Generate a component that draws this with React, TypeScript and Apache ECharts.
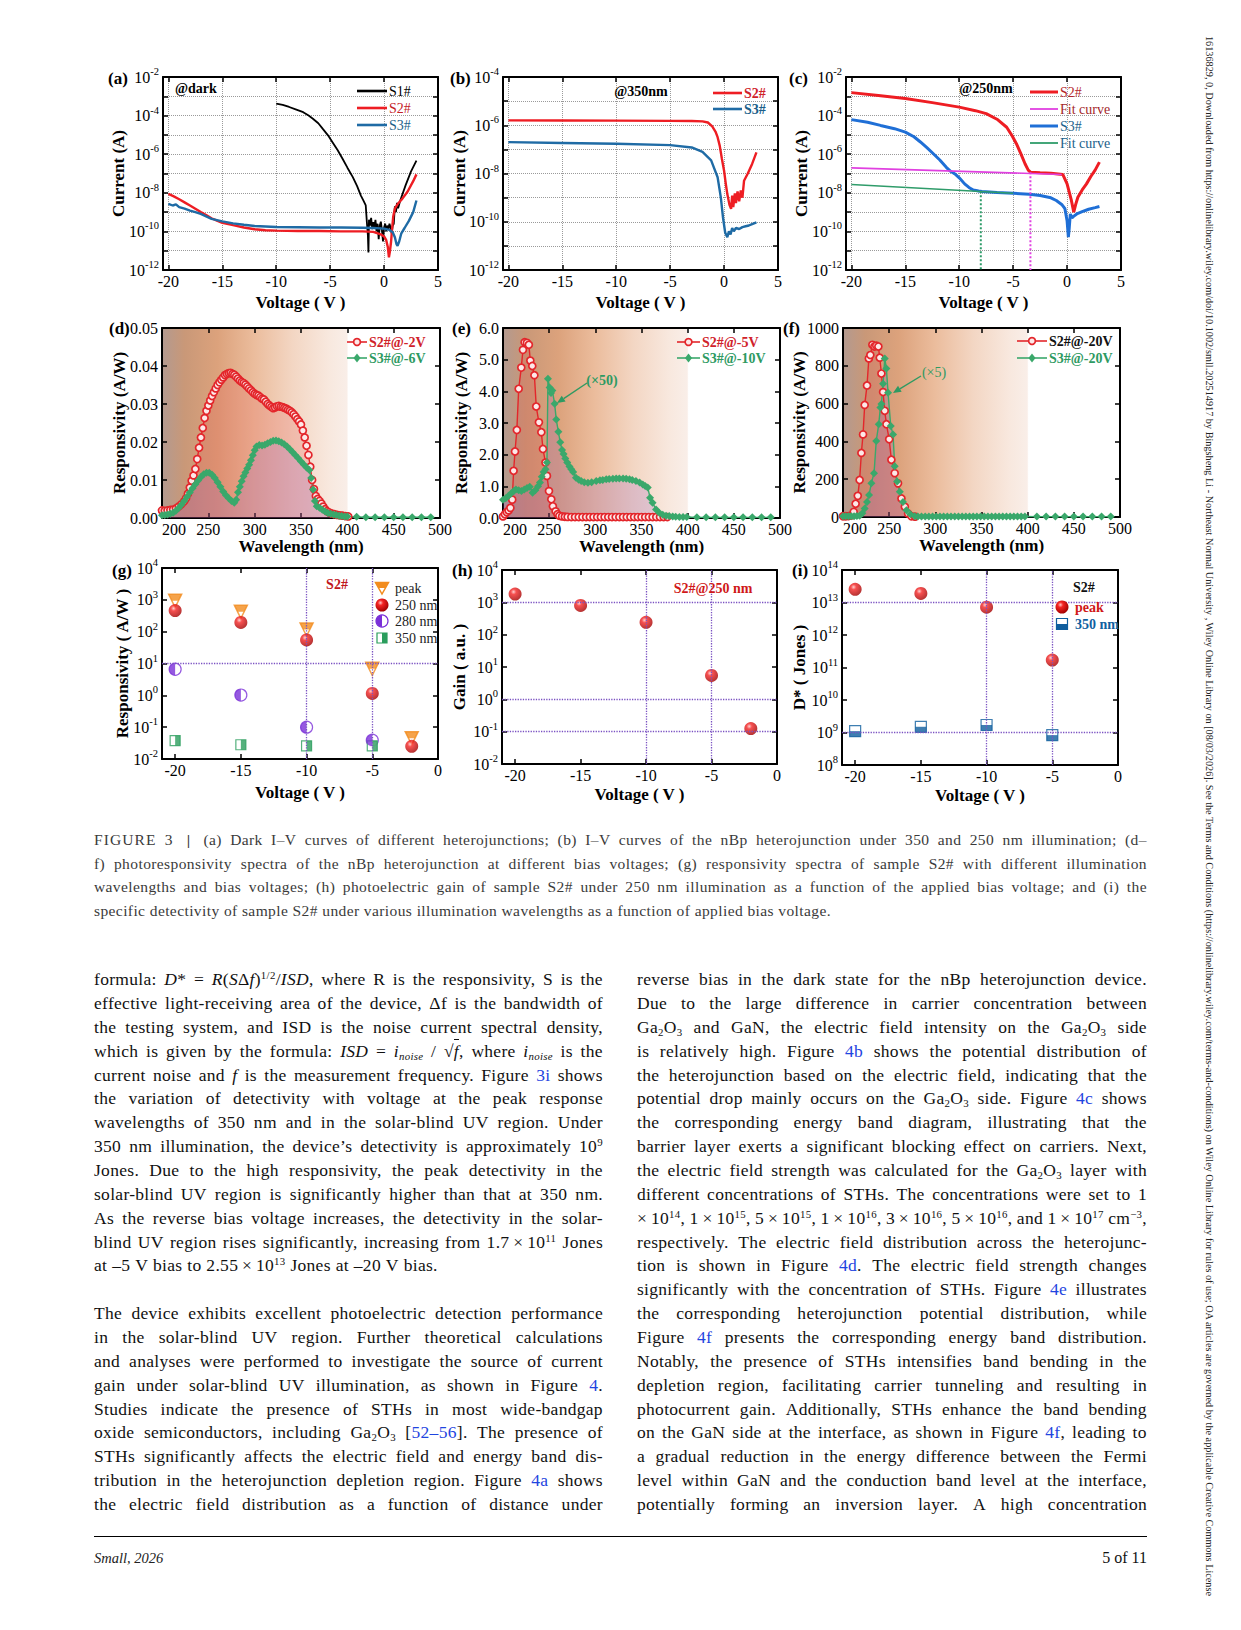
import React, { useEffect, useRef } from "react";
import * as echarts from "echarts";

const SERIF = "'Liberation Serif', 'Times New Roman', Times, serif";

// ---------------- DATA ----------------
// (a) dark I–V, [V, A]
const aS1 = [[-10,4.2e-4],[-9.4,3.6e-4],[-8.8,2.8e-4],[-8.2,2.1e-4],[-7.5,1.5e-4],[-7,1e-4],[-6.6,6.9e-5],[-6.1,4e-5],[-5.7,2.1e-5],[-5.2,9.5e-6],[-4.8,4.3e-6],[-4.3,1.6e-6],[-3.85,5.8e-7],[-3.4,2e-7],[-2.9,6.5e-8],[-2.5,2.2e-8],[-2.15,7.2e-9],[-1.9,3.8e-9],[-1.7,2.2e-9],[-1.6,3.2e-10],[-1.5,6e-11],[-1.45,8e-12],[-1.4,4e-10],[-1.3,2e-10],[-1.2,5e-10],[-1.1,1.3e-10],[-1.0,3e-10],[-0.9,1.6e-10],[-0.8,4e-10],[-0.7,1e-10],[-0.6,2.5e-10],[-0.5,4e-11],[-0.4,2e-10],[-0.3,3.2e-10],[-0.2,1.2e-10],[-0.1,3e-11],[0,1.6e-10],[0.1,2.5e-10],[0.2,1e-10],[0.3,2e-10],[0.4,1.3e-10],[0.5,2.5e-10],[0.6,1.6e-10],[0.7,8e-11],[0.8,2e-10],[0.9,2.5e-10],[1.0,2e-9],[1.1,1e-9],[1.2,3e-9],[1.3,1.6e-9],[1.5,4e-9],[2.0,2.5e-8],[2.5,1.3e-7],[3.0,4.7e-7]];
const aS2 = [[-20,8.7e-9],[-19.5,6.5e-9],[-19,4.6e-9],[-18.5,3.2e-9],[-18,2.2e-9],[-17.5,1.5e-9],[-17,1.0e-9],[-16.5,7e-10],[-16,4.8e-10],[-15.5,3.6e-10],[-15,2.8e-10],[-14,2.1e-10],[-13,1.6e-10],[-12,1.3e-10],[-11,1.15e-10],[-10,1.1e-10],[-8,1.05e-10],[-6,1.05e-10],[-4,1.0e-10],[-2,1.0e-10],[-1,9.5e-11],[-0.3,7e-11],[0,5.5e-11],[0.2,3.5e-11],[0.35,1.5e-11],[0.45,4.5e-12],[0.55,1e-11],[0.65,3e-11],[0.75,1.5e-10],[0.85,6e-10],[1.0,1.5e-9],[1.3,2.8e-9],[1.7,5e-9],[2.2,1.2e-8],[2.7,4e-8],[3.0,9e-8]];
const aS3 = [[-20,2.7e-9],[-19.6,2.2e-9],[-19.3,2.5e-9],[-19,1.8e-9],[-18.5,1.5e-9],[-18,1.2e-9],[-17.5,1e-9],[-17,8e-10],[-16.5,6e-10],[-16,4.5e-10],[-15,3.3e-10],[-14,2.6e-10],[-13,2.2e-10],[-12,1.9e-10],[-10,1.7e-10],[-8,1.65e-10],[-6,1.6e-10],[-4,1.6e-10],[-2,1.55e-10],[-1,1.5e-10],[0,1.4e-10],[0.5,1.2e-10],[0.8,9e-11],[1.0,5e-11],[1.15,2.2e-11],[1.25,1.8e-11],[1.4,3e-11],[1.6,8e-11],[1.9,1.5e-10],[2.3,3.5e-10],[2.7,1e-9],[3.0,4e-9]];
// (b) 350 nm
const bS2 = [[-20,1.6e-6],[-15,1.58e-6],[-10,1.55e-6],[-5,1.52e-6],[-3,1.5e-6],[-2,1.45e-6],[-1.5,1.3e-6],[-1.1,9e-7],[-0.8,5.5e-7],[-0.6,3.2e-7],[-0.4,1.4e-7],[-0.2,4e-8],[0,1.3e-8],[0.15,4e-9],[0.3,1.4e-9],[0.5,5e-10],[0.65,3.4e-10],[0.75,1.2e-9],[0.85,4e-10],[1.0,1.5e-9],[1.1,6e-10],[1.25,1.8e-9],[1.4,7e-10],[1.55,2e-9],[1.7,1e-9],[1.85,5e-9],[2.2,1e-8],[2.6,2.5e-8],[3.0,7.5e-8]];
const bS3 = [[-20,2e-7],[-15,1.85e-7],[-10,1.7e-7],[-5,1.5e-7],[-3,1.2e-7],[-2,7.8e-8],[-1.2,3.5e-8],[-0.6,7e-9],[-0.3,1e-9],[-0.1,1.5e-10],[0.1,3.6e-11],[0.3,2.3e-11],[0.45,4e-11],[0.6,3e-11],[0.75,5.5e-11],[0.9,4e-11],[1.1,5.5e-11],[1.4,5e-11],[1.7,6e-11],[2.0,6.5e-11],[2.3,7e-11],[2.6,8e-11],[3.0,9.5e-11]];
// (c) 250 nm
const cS2 = [[-20,1.55e-3],[-17.5,1.1e-3],[-15,7.6e-4],[-12.5,4.7e-4],[-10,2.75e-4],[-8.5,1.8e-4],[-7.5,1.26e-4],[-6.5,6.5e-5],[-5.6,2.5e-5],[-5.1,9e-6],[-4.7,3.5e-6],[-4.3,1.1e-6],[-3.9,3.2e-7],[-3.6,1.5e-7],[-3.4,1.17e-7],[-2.5,1.1e-7],[-1.5,1.03e-7],[-0.4,8.9e-8],[0,2.9e-8],[0.4,4e-9],[0.62,1e-9],[0.8,2.5e-9],[1.0,5.9e-9],[1.4,1.4e-8],[1.8,2.9e-8],[2.2,7e-8],[2.6,1.5e-7],[3.0,3.9e-7]];
const cFitS2 = [[-20,1.95e-7],[-0.5,8.9e-8]];
const cCutS2 = [[-3.4,1.17e-7],[-3.4,1e-12]];
const cS3 = [[-20,6.2e-5],[-18.5,4.5e-5],[-17.3,3.1e-5],[-16,2.1e-5],[-15,1.4e-5],[-14.2,8e-6],[-13.6,4.3e-6],[-13,2.2e-6],[-12.4,1.05e-6],[-11.8,5e-7],[-11.2,2.1e-7],[-10.8,1.3e-7],[-10.4,9.5e-8],[-10,6e-8],[-9.5,2.9e-8],[-9.1,1.9e-8],[-8.7,1.4e-8],[-8.2,1.25e-8],[-7.9,1.18e-8],[-6.5,1.05e-8],[-5,9.5e-9],[-3.5,8.5e-9],[-2.5,7.2e-9],[-1.5,5.5e-9],[-1,4e-9],[-0.5,2.5e-9],[-0.2,1.5e-9],[0,3.6e-10],[0.12,5e-11],[0.2,1.5e-10],[0.3,8e-10],[0.45,5e-10],[0.6,6e-10],[0.9,8e-10],[1.4,1.05e-9],[2.0,1.4e-9],[2.6,1.7e-9],[3.0,1.95e-9]];
const cFitS3 = [[-20,2.7e-8],[-5,9.5e-9]];
const cCutS3 = [[-8.0,1.2e-8],[-8.0,1e-12]];
// (d) responsivity spectra, [nm, A/W]
const dS2 = [[200,0.0020],[203,0.0019],[206,0.0020],[209,0.0021],[212,0.0022],[215,0.0025],[218,0.0030],[221,0.0036],[224,0.0044],[226,0.0052],[228,0.0064],[230,0.0080],[232,0.0098],[234,0.0112],[236,0.0129],[238,0.0155],[240,0.0185],[242,0.0212],[244,0.0237],[246,0.0263],[248,0.0282],[250,0.0296],[252,0.0309],[254,0.0321],[256,0.0331],[258,0.0341],[260,0.0350],[262,0.0357],[264,0.0364],[266,0.0370],[268,0.0376],[270,0.0379],[272,0.0381],[274,0.0382],[276,0.0379],[278,0.0377],[280,0.0372],[282,0.0367],[284,0.0362],[286,0.0358],[288,0.0355],[290,0.0351],[292,0.0346],[294,0.0341],[296,0.0336],[298,0.0331],[300,0.0327],[302,0.0324],[304,0.0322],[306,0.0318],[308,0.0314],[310,0.0312],[312,0.0306],[314,0.0300],[316,0.0296],[318,0.0292],[320,0.0289],[322,0.0291],[324,0.0294],[326,0.0295],[328,0.0293],[330,0.0292],[332,0.0290],[334,0.0288],[336,0.0285],[338,0.0282],[340,0.0278],[342,0.0273],[344,0.0267],[346,0.0260],[348,0.0254],[350,0.0246],[352,0.0230],[354,0.0212],[356,0.0190],[358,0.0166],[360,0.0135],[362,0.0100],[364,0.0076],[366,0.0058],[368,0.0050],[370,0.0045],[372,0.0038],[374,0.0030],[376,0.0023],[378,0.0018],[380,0.0015],[383,0.0012],[386,0.0010],[389,0.0008],[392,0.0007],[395,0.0006],[398,0.0005],[401,0.0004]];
const dS3 = [[200,0.0007],[203,0.0008],[206,0.0009],[209,0.0011],[212,0.0014],[215,0.0019],[218,0.0026],[221,0.0035],[224,0.0045],[227,0.0056],[230,0.0067],[233,0.0078],[236,0.0089],[239,0.0099],[242,0.0108],[245,0.0115],[248,0.0119],[251,0.0119],[254,0.0114],[257,0.0105],[260,0.0094],[263,0.0082],[266,0.0070],[269,0.0060],[272,0.0052],[275,0.0045],[278,0.0040],[280,0.0048],[282,0.0068],[284,0.0082],[286,0.0097],[288,0.0110],[290,0.0120],[292,0.0130],[294,0.0140],[296,0.0152],[298,0.0165],[300,0.0178],[302,0.0188],[305,0.0192],[308,0.0191],[311,0.0193],[314,0.0197],[317,0.0200],[320,0.0203],[323,0.0204],[326,0.0202],[329,0.0199],[332,0.0194],[335,0.0188],[338,0.0181],[341,0.0173],[344,0.0165],[347,0.0157],[350,0.0149],[353,0.0141],[356,0.0133],[359,0.0126],[361,0.0105],[363,0.0075],[365,0.0045],[367,0.0031],[370,0.0027],[373,0.0022],[376,0.0017],[379,0.0013],[382,0.0011],[385,0.0009],[388,0.0008],[391,0.0006],[394,0.0005],[397,0.0004],[400,0.0004],[410,0.0003],[420,0.0002],[430,0.0002],[440,0.0002],[450,0.0002],[460,0.0002],[470,0.0002],[480,0.0002],[490,0.0002]];
// (e)
const eS2 = [[200,0.05],[202,0.12],[204,0.18],[206,0.24],[208,0.32],[210,0.58],[211.5,1.49],[213,2.1],[215,2.78],[217,4.08],[219.8,4.75],[221.6,5.31],[223.4,5.55],[225.9,5.53],[228,5.47],[229.6,4.97],[231.7,4.8],[234,4.51],[236,3.52],[238.9,3.02],[241.5,2.71],[243.3,2.18],[246,1.75],[247.6,1.33],[249.8,0.85],[252.3,0.59],[254,0.37],[257,0.21],[259,0.12],[261,0.07],[264,0.05],[267,0.04],[270,0.035],[274,0.03],[278,0.03],[282,0.03],[286,0.03],[290,0.03],[294,0.03],[298,0.03],[302,0.03],[306,0.03],[310,0.03],[314,0.03],[318,0.03],[322,0.03],[326,0.03],[330,0.03],[334,0.03],[338,0.03],[342,0.03],[346,0.03],[350,0.03],[354,0.03],[358,0.03],[362,0.03],[366,0.03],[370,0.03],[374,0.03],[378,0.03]];
const eS3 = [[200,0.58],[203,0.62],[206,0.70],[209,0.78],[212,0.86],[214,0.90],[217,0.88],[220,0.85],[223,0.90],[226,0.95],[229,0.99],[232,0.80],[235,0.88],[238,1.00],[240,1.12],[242,1.30],[244,1.45],[246,1.54],[247.6,1.75],[248.7,4.40],[250.5,4.12],[252,3.95],[253.4,4.03],[255.9,3.61],[257.7,3.11],[260,2.72],[262,2.39],[264,2.15],[265.6,2.02],[267.5,1.88],[269.6,1.75],[272,1.63],[274,1.54],[276,1.45],[279,1.27],[282,1.21],[284.7,1.17],[288,1.13],[292,1.11],[296,1.13],[301,1.17],[305,1.19],[308,1.20],[311.8,1.22],[315,1.23],[319,1.24],[322.6,1.25],[326,1.25],[330,1.25],[333.4,1.24],[337,1.22],[340,1.20],[344,1.17],[348,1.12],[351.4,1.06],[354,1.01],[356.8,0.96],[359.3,0.64],[362,0.48],[365.8,0.27],[369.5,0.16],[373,0.10],[376.6,0.07],[380,0.06],[383.8,0.05],[387,0.04],[391,0.03],[395,0.03],[399,0.03],[410,0.02],[420,0.02],[430,0.02],[440,0.02],[450,0.02],[460,0.02],[470,0.02],[480,0.02],[490,0.02]];
// (f)
const fS2 = [[200,4],[203,4],[206,5],[209,8],[211.6,27],[213.7,70],[216,112],[218,196],[219.9,339],[221.7,437],[223.5,593],[226,696],[228,839],[229.6,857],[231.8,911],[234,902],[236,907],[238.3,902],[239.8,843],[241.6,759],[243.4,661],[245.2,562],[247,491],[250,411],[252.4,303],[256,232],[259.6,178],[263.3,98],[267,54],[270.5,18],[274,4],[278,2]];
const fS3 = [[200,4],[203,4],[206,4],[209,4],[212,4],[215,5],[218,7],[221,20],[223.5,45],[226,80],[228.2,116],[230.7,179],[233.6,232],[236,402],[238.7,491],[240.5,580],[241.6,598],[243.4,705],[245.2,839],[247,786],[248.8,657],[251.7,482],[254.2,437],[256,268],[258.6,188],[261.5,134],[265,80],[268.7,36],[273,14],[277.7,4],[281,3],[285,3],[289,3],[293,3],[297,3],[301,3],[305,3],[309,3],[313,3],[317,3],[321,3],[325,3],[329,3],[333,3],[337,3],[341,3],[345,3],[349,3],[353,3],[357,3],[361,3],[365,3],[369,3],[373,3],[377,3],[381,3],[385,3],[389,3],[393,3],[397,3],[410,2],[420,2],[430,2],[440,2],[450,2],[460,2],[470,2],[480,2],[490,2]];
// (g) responsivity vs bias
const gV = [-20, -15, -10, -5, -2];
const gPeak = [930, 420, 117, 6.8, 0.045];
const g250 = [460, 195, 55, 1.15, 0.025];
const gV4 = [-20, -15, -10, -5];
const g280 = [6.6, 1.02, 0.10, 0.039];
const g350 = [0.038, 0.028, 0.026, 0.026];
// (h) gain
const hV = [-20, -15, -10, -5, -2];
const hGain = [1800, 800, 240, 5.5, 0.125];
// (i) detectivity
const iV = [-20, -15, -10, -5];
const iPeak = [2.55e13, 1.9e13, 7.2e12, 1.7e11];
const i350 = [1.1e9, 1.5e9, 1.7e9, 8.3e8];

// ---------------- TEXT ----------------
const CAPTION = [
  "<em>FIGURE</em> <em>3</em> <b>|</b> (a) Dark I–V curves of different heterojunctions; (b) I–V curves of the nBp heterojunction under 350 and 250 nm illumination; (d–",
  "f) photoresponsivity spectra of the nBp heterojunction at different bias voltages; (g) responsivity spectra of sample S2# with different illumination",
  "wavelengths and bias voltages; (h) photoelectric gain of sample S2# under 250 nm illumination as a function of the applied bias voltage; and (i) the",
  "specific detectivity of sample S2# under various illumination wavelengths as a function of applied bias voltage.",
];
const LEFT_TEXT = [
  "formula: <i>D</i>* = <i>R</i>(<i>S</i>Δ<i>f</i>)<sup>1/2</sup>/<i>ISD</i>, where R is the responsivity, S is the",
  "effective light-receiving area of the device, Δf is the bandwidth of",
  "the testing system, and ISD is the noise current spectral density,",
  "which is given by the formula: <i>ISD</i> = <i>i</i><sub><i>noise</i></sub> / √<s><i>f</i></s>, where <i>i</i><sub><i>noise</i></sub> is the",
  "current noise and <i>f</i> is the measurement frequency. Figure <a>3i</a> shows",
  "the variation of detectivity with voltage at the peak response",
  "wavelengths of 350 nm and in the solar-blind UV region. Under",
  "350 nm illumination, the device’s detectivity is approximately 10<sup>9</sup>",
  "Jones. Due to the high responsivity, the peak detectivity in the",
  "solar-blind UV region is significantly higher than that at 350 nm.",
  "As the reverse bias voltage increases, the detectivity in the solar-",
  "blind UV region rises significantly, increasing from 1.7\u2009×\u200910<sup>11</sup> Jones",
  "at –5 V bias to 2.55\u2009×\u200910<sup>13</sup> Jones at –20 V bias.",
  "",
  "The device exhibits excellent photoelectric detection performance",
  "in the solar-blind UV region. Further theoretical calculations",
  "and analyses were performed to investigate the source of current",
  "gain under solar-blind UV illumination, as shown in Figure <a>4</a>.",
  "Studies indicate the presence of STHs in most wide-bandgap",
  "oxide semiconductors, including Ga<sub>2</sub>O<sub>3</sub> [<a>52–56</a>]. The presence of",
  "STHs significantly affects the electric field and energy band dis-",
  "tribution in the heterojunction depletion region. Figure <a>4a</a> shows",
  "the electric field distribution as a function of distance under",
];
const RIGHT_TEXT = [
  "reverse bias in the dark state for the nBp heterojunction device.",
  "Due to the large difference in carrier concentration between",
  "Ga<sub>2</sub>O<sub>3</sub> and GaN, the electric field intensity on the Ga<sub>2</sub>O<sub>3</sub> side",
  "is relatively high. Figure <a>4b</a> shows the potential distribution of",
  "the heterojunction based on the electric field, indicating that the",
  "potential drop mainly occurs on the Ga<sub>2</sub>O<sub>3</sub> side. Figure <a>4c</a> shows",
  "the corresponding energy band diagram, illustrating that the",
  "barrier layer exerts a significant blocking effect on carriers. Next,",
  "the electric field strength was calculated for the Ga<sub>2</sub>O<sub>3</sub> layer with",
  "different concentrations of STHs. The concentrations were set to 1",
  "×\u200910<sup>14</sup>, 1\u2009×\u200910<sup>15</sup>, 5\u2009×\u200910<sup>15</sup>, 1\u2009×\u200910<sup>16</sup>, 3\u2009×\u200910<sup>16</sup>, 5\u2009×\u200910<sup>16</sup>, and 1\u2009×\u200910<sup>17</sup> cm<sup>−3</sup>,",
  "respectively. The electric field distribution across the heterojunc-",
  "tion is shown in Figure <a>4d</a>. The electric field strength changes",
  "significantly with the concentration of STHs. Figure <a>4e</a> illustrates",
  "the corresponding heterojunction potential distribution, while",
  "Figure <a>4f</a> presents the corresponding energy band distribution.",
  "Notably, the presence of STHs intensifies band bending in the",
  "depletion region, facilitating carrier tunneling and resulting in",
  "photocurrent gain. Additionally, STHs enhance the band bending",
  "on the GaN side at the interface, as shown in Figure <a>4f</a>, leading to",
  "a gradual reduction in the energy difference between the Fermi",
  "level within GaN and the conduction band level at the interface,",
  "potentially forming an inversion layer. A high concentration",
];
const SIDEBAR = "16136829, 0, Downloaded from https://onlinelibrary.wiley.com/doi/10.1002/smll.202514917 by Bingsheng Li - Northeast Normal University , Wiley Online Library on [08/03/2026]. See the Terms and Conditions (https://onlinelibrary.wiley.com/terms-and-conditions) on Wiley Online Library for rules of use; OA articles are governed by the applicable Creative Commons License";

// ---------------- STYLE / LAYOUT ----------------
const RED = "#ee1d23";
const BLUE_A = "#1f6ba5";
const BLUE_C = "#1f6fd6";
const MAG = "#e040e0";
const GRN_FIT = "#2f9c6a";
const RED_S = "#e3262b";
const GRN_S = "#3aa86b";
const PURPLE = "#7a2fd8";
const ORANGE = "#f28c1e";
const SQ_G = "#2a9d5c";
const SQ_B = "#0f5e9e";
const GUIDE = "#7b52c2";

const GRIDS = [
  { left: 163, top: 77, width: 275, height: 193 },
  { left: 503, top: 77, width: 275, height: 193 },
  { left: 846, top: 77, width: 275, height: 193 },
  { left: 162, top: 328, width: 278, height: 190 },
  { left: 503, top: 328, width: 277, height: 190 },
  { left: 843, top: 328, width: 277, height: 189 },
  { left: 162, top: 568, width: 276, height: 191 },
  { left: 502, top: 570, width: 275, height: 194 },
  { left: 842, top: 570, width: 276, height: 195 },
];

const powFmt = (step: number) => (v: number) => {
  const e = Math.round(Math.log10(v));
  return e % step === 0 ? `{b|10}{s|${e}}` : "";
};
const RICH = {
  b: { fontFamily: SERIF, fontSize: 16, color: "#000", verticalAlign: "middle", lineHeight: 22 },
  s: { fontFamily: SERIF, fontSize: 10.5, color: "#000", verticalAlign: "top", lineHeight: 22 },
};

const X_IV = { min: -20.5, max: 5, split: 5, showMin: false, name: "Voltage ( V )", gap: 24, grid: true };
const X_WL = { min: 200, max: 500, interval: 50, name: "Wavelength (nm)", gap: 19.5, alignMin: "left", fmt: (v: number) => String(v) };
const PANEL_AX: any[] = [
  { x: X_IV, y: { type: "log", min: 1e-12, max: 1e-2, split: 10, fmt: powFmt(2), name: "Current (A)", gap: 36.5, grid: true } },
  { x: X_IV, y: { type: "log", min: 1e-12, max: 1e-4, split: 8, fmt: powFmt(2), name: "Current (A)", gap: 35.5, grid: true } },
  { x: X_IV, y: { type: "log", min: 1e-12, max: 1e-2, split: 10, fmt: powFmt(2), name: "Current (A)", gap: 36.5, grid: true } },
  { x: X_WL, y: { min: 0, max: 0.05, interval: 0.01, fmt: (v: number) => v.toFixed(2), name: "Responsivity (A/W)", gap: 34.5 } },
  { x: X_WL, y: { min: 0, max: 6, interval: 1, fmt: (v: number) => v.toFixed(1), name: "Responsivity (A/W)", gap: 33.5 } },
  { x: X_WL, y: { min: 0, max: 1000, interval: 200, fmt: (v: number) => String(v), name: "Responsivity (A/W)", gap: 35.5 } },
  { x: { min: -21, max: 0, split: 5, showMin: false, name: "Voltage ( V )", gap: 25 }, y: { type: "log", min: 1e-2, max: 1e4, split: 6, fmt: powFmt(1), name: "Responsivity ( A/W )", gap: 31 } },
  { x: { min: -21, max: 0, split: 5, showMin: false, name: "Voltage ( V )", gap: 22 }, y: { type: "log", min: 1e-2, max: 1e4, split: 6, fmt: powFmt(1), name: "Gain ( a.u. )", gap: 34 } },
  { x: { min: -21, max: 0, split: 5, showMin: false, name: "Voltage ( V )", gap: 21.5 }, y: { type: "log", min: 1e8, max: 1e14, split: 6, fmt: powFmt(1), name: "D* ( Jones )", gap: 34.5 } },
];

const AXL = { show: true, onZero: false, lineStyle: { color: "#000", width: 2 } };
const TICK = { show: true, inside: true, length: 5, lineStyle: { color: "#000", width: 1.5 } };
const LBL = { fontFamily: SERIF, fontSize: 16, color: "#000" };
const NAME = { fontFamily: SERIF, fontSize: 17, fontWeight: "bold", color: "#000" };
const DOT = { show: true, lineStyle: { color: "#9a9a9a", type: "dotted", width: 1 } };

function buildAxes() {
  const xs: any[] = [];
  const ys: any[] = [];
  PANEL_AX.forEach((p, gi) => {
    const x = p.x;
    const y = p.y;
    const xBase = { gridIndex: gi, type: "value", min: x.min, max: x.max, interval: x.interval, splitNumber: x.split, axisLine: AXL, axisTick: TICK };
    xs.push({ ...xBase, position: "bottom",
      axisLabel: { ...LBL, margin: 3, showMinLabel: x.showMin !== false, formatter: x.fmt, alignMinLabel: x.alignMin },
      splitLine: x.grid ? DOT : { show: false },
      name: x.name, nameLocation: "middle", nameGap: x.gap, nameTextStyle: NAME, nameMoveOverlap: false });
    xs.push({ ...xBase, position: "top", axisLabel: { show: false }, splitLine: { show: false } });
    const yBase = { gridIndex: gi, type: y.type || "value", min: y.min, max: y.max, interval: y.interval, splitNumber: y.split, axisLine: AXL, axisTick: TICK };
    ys.push({ ...yBase, position: "left",
      axisLabel: { ...LBL, margin: 4, formatter: y.fmt, rich: RICH },
      splitLine: y.grid ? DOT : { show: false },
      name: y.name, nameLocation: "middle", nameGap: y.gap, nameTextStyle: NAME, nameMoveOverlap: false });
    ys.push({ ...yBase, position: "right", axisLabel: { show: false }, splitLine: { show: false } });
  });
  return { xs, ys };
}

const solarBg = () =>
  new echarts.graphic.LinearGradient(0, 0, 1, 0, [
    { offset: 0, color: "#b39a90" },
    { offset: 0.08, color: "#c99878" },
    { offset: 0.2, color: "#dca27c" },
    { offset: 0.33, color: "#ebbc9c" },
    { offset: 0.47, color: "#f3d6c3" },
    { offset: 0.6, color: "#f8e8de" },
    { offset: 0.665, color: "#f9eee8" },
    { offset: 0.67, color: "#ffffff" },
    { offset: 1, color: "#ffffff" },
  ]);

const sphere = () =>
  new echarts.graphic.RadialGradient(0.38, 0.33, 0.68, [
    { offset: 0, color: "#ffc4c4" },
    { offset: 0.3, color: "#f42424" },
    { offset: 1, color: "#a30000" },
  ]);

const ax = (gi: number) => ({ xAxisIndex: 2 * gi, yAxisIndex: 2 * gi });

const line = (gi: number, data: any[], color: string, width: number, extra: any = {}) => ({
  type: "line", ...ax(gi), data, symbol: "none", showSymbol: false, silent: true,
  lineStyle: { color, width, ...(extra.lineStyle || {}) }, itemStyle: { color }, z: extra.z || 2,
});

const specRed = (gi: number, data: any[]) => ({
  type: "line", ...ax(gi), data, symbol: "circle", symbolSize: 7, showSymbol: true, silent: true,
  lineStyle: { color: RED_S, width: 1.4 }, itemStyle: { color: "#fde8e8", borderColor: RED_S, borderWidth: 1.7 },
  areaStyle: { color: "rgba(228,72,72,0.28)" },
});
const specGreen = (gi: number, data: any[]) => ({
  type: "line", ...ax(gi), data, symbol: "diamond", symbolSize: 8, showSymbol: true, silent: true,
  lineStyle: { color: GRN_S, width: 1.4 }, itemStyle: { color: GRN_S },
  areaStyle: { color: "rgba(140,90,200,0.30)" },
});

const pts = (xs: number[], ys: number[]) => xs.map((x, i) => [x, ys[i]]);
const sc = (gi: number, data: any[], o: any) => ({
  type: "scatter", ...ax(gi), data, silent: true, symbol: o.symbol, symbolSize: o.size,
  symbolOffset: o.offset, symbolRotate: o.rotate, itemStyle: o.style, z: o.z || 3,
});
const guides = (ys: number[]) => ({
  silent: true, symbol: ["none", "none"], label: { show: false },
  lineStyle: { color: GUIDE, type: "dotted", width: 1.3 },
  data: [{ xAxis: -10 }, { xAxis: -5 }, ...ys.map((v) => ({ yAxis: v }))],
});

// ---------------- GRAPHIC HELPERS ----------------
const T = (x: number, y: number, text: string, o: any = {}) => ({
  type: "text", x, y, z: 100, silent: true,
  style: {
    text, fontFamily: SERIF, fontSize: o.size || 14, fontWeight: o.bold ? "bold" : "normal",
    fill: o.color || "#000", align: o.align || "left", verticalAlign: "middle",
    textAlign: o.align || "left", textVerticalAlign: "middle",
  },
});
const L = (x1: number, y1: number, x2: number, y2: number, color: string, w: number) => ({
  type: "line", z: 100, silent: true, shape: { x1, y1, x2, y2 }, style: { stroke: color, lineWidth: w },
});
const arrow = (x1: number, y1: number, x2: number, y2: number, color: string) => {
  const a = Math.atan2(y2 - y1, x2 - x1);
  const bx = x2 - 8 * Math.cos(a), by = y2 - 8 * Math.sin(a);
  const s = Math.sin(a), c = Math.cos(a);
  return [
    L(x1, y1, bx, by, color, 1.4),
    { type: "polygon", z: 100, silent: true, shape: { points: [[x2, y2], [bx + 3.5 * s, by - 3.5 * c], [bx - 3.5 * s, by + 3.5 * c]] }, style: { fill: color } },
  ];
};
const legCircle = (x: number, y: number) => ({ type: "circle", z: 101, silent: true, shape: { cx: x, cy: y, r: 3.4 }, style: { fill: "#fde8e8", stroke: RED_S, lineWidth: 1.7 } });
const legDiamond = (x: number, y: number) => ({ type: "polygon", z: 101, silent: true, shape: { points: [[x, y - 4.5], [x + 3.5, y], [x, y + 4.5], [x - 3.5, y]] }, style: { fill: GRN_S } });

function buildGraphic() {
  const el: any[] = [];
  // panel letters
  [["(a)", 108, 78], ["(b)", 450, 78], ["(c)", 789, 78], ["(d)", 109, 328], ["(e)", 452, 328], ["(f)", 783, 328], ["(g)", 112, 570], ["(h)", 452, 570], ["(i)", 792, 570]].forEach(([t, x, y]: any) =>
    el.push(T(x, y, t, { bold: true, size: 17 })));
  // (a)
  el.push(T(175, 88, "@dark", { bold: true }));
  [["S1#", "#000", "#000", 91], ["S2#", RED, "#c42026", 108], ["S3#", BLUE_A, "#1c5f8a", 125]].forEach(([t, lc, tc, y]: any) => {
    el.push(L(357, y, 387, y, lc, 2.6));
    el.push(T(389, y, t, { color: tc, size: 14 }));
  });
  // (b)
  el.push(T(641, 91, "@350nm", { bold: true, align: "center" }));
  [["S2#", RED, "#d0222a", 93], ["S3#", BLUE_A, "#1c5f8a", 109]].forEach(([t, lc, tc, y]: any) => {
    el.push(L(713, y, 742, y, lc, 2.6));
    el.push(T(744, y, t, { color: tc, bold: true, size: 14 }));
  });
  // (c)
  el.push(T(986, 88, "@250nm", { bold: true, align: "center" }));
  [["S2#", RED, "#b3262a", 92, 3], ["Fit curve", MAG, "#a3282b", 109, 1.8], ["S3#", BLUE_C, "#1c5f8a", 126, 3], ["Fit curve", GRN_FIT, "#1c5f8a", 143, 1.8]].forEach(([t, lc, tc, y, w]: any) => {
    el.push(L(1030, y, 1058, y, lc, w));
    el.push(T(1060, y, t, { color: tc, size: 14 }));
  });
  // (d)(e)(f) legends
  const specLeg = (x0: number, x1: number, tx: number, y1: number, y2: number, t1: string, c1: string, t2: string) => {
    el.push(L(x0, y1, x1, y1, RED_S, 1.6));
    el.push(legCircle((x0 + x1) / 2, y1));
    el.push(T(tx, y1, t1, { color: c1, bold: true }));
    el.push(L(x0, y2, x1, y2, GRN_S, 1.6));
    el.push(legDiamond((x0 + x1) / 2, y2));
    el.push(T(tx, y2, t2, { color: "#2e9a62", bold: true }));
  };
  specLeg(347, 367, 369, 342, 358, "S2#@-2V", "#d0222a", "S3#@-6V");
  specLeg(677, 700, 702, 342, 358, "S2#@-5V", "#d0222a", "S3#@-10V");
  specLeg(1017, 1047, 1049, 341, 358, "S2#@-20V", "#111", "S3#@-20V");
  el.push(T(602, 380, "(×50)", { color: "#2e9a62", bold: true, align: "center" }));
  el.push(...arrow(587, 383, 557, 403, "#2e9a62"));
  el.push(T(934, 372, "(×5)", { color: "#2e9a62", align: "center" }));
  el.push(...arrow(921, 376, 893, 393, "#2e9a62"));
  // (g)
  el.push(T(337, 584, "S2#", { bold: true, color: "#c0161c", align: "center" }));
  const gx = 382;
  el.push({ type: "polygon", z: 101, silent: true, shape: { points: [[gx - 6.5, 582.5], [gx + 6.5, 582.5], [gx, 594]] }, style: { fill: "#fff", stroke: ORANGE, lineWidth: 1.5 } });
  el.push({ type: "polygon", z: 102, silent: true, shape: { points: [[gx - 6.5, 582.5], [gx + 6.5, 582.5], [gx + 3.6, 588], [gx - 3.6, 588]] }, style: { fill: ORANGE } });
  el.push({ type: "circle", z: 101, silent: true, shape: { cx: gx, cy: 605, r: 6.5 }, style: { fill: sphere() } });
  el.push({ type: "circle", z: 101, silent: true, shape: { cx: gx, cy: 621, r: 6 }, style: { fill: "#fff", stroke: PURPLE, lineWidth: 1.2 } });
  el.push({ type: "sector", z: 102, silent: true, shape: { cx: gx, cy: 621, r: 6, r0: 0, startAngle: Math.PI / 2, endAngle: (3 * Math.PI) / 2, clockwise: true }, style: { fill: PURPLE } });
  el.push({ type: "rect", z: 101, silent: true, shape: { x: gx - 5, y: 633, width: 10, height: 10 }, style: { fill: "#fff", stroke: SQ_G, lineWidth: 1.2 } });
  el.push({ type: "rect", z: 102, silent: true, shape: { x: gx, y: 633, width: 5, height: 10 }, style: { fill: SQ_G } });
  [["peak", 588], ["250 nm", 605], ["280 nm", 621], ["350 nm", 638]].forEach(([t, y]: any) => el.push(T(395, y, t, { color: "#222" })));
  // (h)
  el.push(T(713, 588, "S2#@250 nm", { bold: true, color: "#d01818", align: "center" }));
  // (i)
  el.push(T(1073, 587, "S2#", { bold: true, color: "#111" }));
  el.push({ type: "circle", z: 101, silent: true, shape: { cx: 1062, cy: 607, r: 6.5 }, style: { fill: sphere() } });
  el.push(T(1075, 607, "peak", { bold: true, color: "#d01818" }));
  el.push({ type: "rect", z: 101, silent: true, shape: { x: 1056.5, y: 618.5, width: 11, height: 11 }, style: { fill: "#fff", stroke: SQ_B, lineWidth: 1.2 } });
  el.push({ type: "rect", z: 102, silent: true, shape: { x: 1056.5, y: 624, width: 11, height: 5.5 }, style: { fill: SQ_B } });
  el.push(T(1075, 624, "350 nm", { bold: true, color: "#1060a0" }));
  return el;
}

function buildOption() {
  const { xs, ys } = buildAxes();
  const series: any[] = [
    // (a)
    line(0, aS1, "#000", 1.8), line(0, aS2, RED, 2.4), line(0, aS3, BLUE_A, 2.4),
    // (b)
    line(1, bS2, RED, 2.4), line(1, bS3, BLUE_A, 2.4),
    // (c)
    line(2, cS2, RED, 3), line(2, cFitS2, MAG, 1.6, { z: 3 }), line(2, cS3, BLUE_C, 3), line(2, cFitS3, GRN_FIT, 1.6, { z: 3 }),
    line(2, cCutS2, MAG, 2, { lineStyle: { type: "dotted" } }), line(2, cCutS3, GRN_FIT, 2, { lineStyle: { type: "dotted" } }),
    // (d)(e)(f)
    specRed(3, dS2), specGreen(3, dS3),
    specRed(4, eS2), specGreen(4, eS3),
    specRed(5, fS2), specGreen(5, fS3),
    // (g)
    { ...sc(6, pts(gV, gPeak), { symbol: "triangle", size: 13, rotate: 180, style: { color: "#fff", borderColor: ORANGE, borderWidth: 1.5 } }), markLine: guides([10]) },
    sc(6, pts(gV, gPeak), { symbol: "path://M0,0 L12,0 L9,6 L3,6 Z", size: [13, 6.5], offset: [0, -3.25], style: { color: ORANGE }, z: 4 }),
    sc(6, pts(gV, g250), { symbol: "circle", size: 13, style: { color: sphere() } }),
    sc(6, pts(gV4, g280), { symbol: "circle", size: 12, style: { color: "#fff", borderColor: PURPLE, borderWidth: 1.2 } }),
    sc(6, pts(gV4, g280), { symbol: "path://M6,0 A6,6 0 0 0 6,12 Z", size: [6, 12], offset: [-3, 0], style: { color: PURPLE }, z: 4 }),
    sc(6, pts(gV4, g350), { symbol: "rect", size: 10, style: { color: "#fff", borderColor: SQ_G, borderWidth: 1.2 } }),
    sc(6, pts(gV4, g350), { symbol: "rect", size: [5, 10], offset: [2.5, 0], style: { color: SQ_G }, z: 4 }),
    // (h)
    { ...sc(7, pts(hV, hGain), { symbol: "circle", size: 13, style: { color: sphere() } }), markLine: guides([1000, 1, 0.1]) },
    // (i)
    { ...sc(8, pts(iV, iPeak), { symbol: "circle", size: 13, style: { color: sphere() } }), markLine: guides([1e13, 1e9]) },
    sc(8, pts(iV, i350), { symbol: "rect", size: 11, style: { color: "#fff", borderColor: SQ_B, borderWidth: 1.2 } }),
    sc(8, pts(iV, i350), { symbol: "rect", size: [11, 5.5], offset: [0, 2.75], style: { color: SQ_B }, z: 4 }),
  ];
  return {
    animation: false,
    backgroundColor: "#fff",
    textStyle: { fontFamily: SERIF },
    grid: GRIDS.map((g, i) => ({
      ...g, show: i >= 3 && i <= 5, backgroundColor: i >= 3 && i <= 5 ? solarBg() : "transparent",
      borderWidth: 0, containLabel: false, outerBoundsMode: "none",
    })),
    xAxis: xs,
    yAxis: ys,
    series,
    graphic: { elements: buildGraphic() },
  };
}

// ---------------- PAGE ----------------
const CSS = `
.pg sup{font-size:0.62em;vertical-align:0.55em;line-height:0}
.pg sub{font-size:0.62em;vertical-align:-0.3em;line-height:0}
.pg a{color:#1f45e0;text-decoration:none}
.pg s{text-decoration:none;border-top:1px solid #111;padding-top:1px}
.pg em{font-style:normal;letter-spacing:0.07em}
.pg b{font-weight:bold;padding:0 0.3em}
`;

function Block({ lines, left, top, width, lh, size, color, lastIdx, ls }: any) {
  return (
    <div style={{ position: "absolute", left, top, width, fontSize: size, color, letterSpacing: ls }}>
      {lines.map((ln: string, i: number) => {
        const last = lastIdx.includes(i);
        const words = ln.split(" ").filter(Boolean);
        return (
          <div key={i} style={{ height: lh, lineHeight: lh + "px", display: "flex", justifyContent: last ? "flex-start" : "space-between", columnGap: last ? "0.28em" : 0, whiteSpace: "nowrap" }}>
            {words.map((w, j) => <span key={j} dangerouslySetInnerHTML={{ __html: w }} />)}
          </div>
        );
      })}
    </div>
  );
}

export default function App() {
  const ref = useRef<HTMLDivElement>(null);
  useEffect(() => {
    const chart = echarts.init(ref.current as HTMLDivElement, null, { renderer: "svg" });
    chart.setOption(buildOption() as any);
    return () => chart.dispose();
  }, []);
  return (
    <div className="pg" style={{ position: "absolute", left: 0, top: 0, width: 1241, height: 1630, background: "#fff", overflow: "hidden", fontFamily: SERIF, color: "#111" }}>
      <style>{CSS}</style>
      <div ref={ref} style={{ position: "absolute", left: 0, top: 0, width: 1241, height: 820 }} />
      <Block lines={CAPTION} left={94} top={828.2} width={1053} lh={23.6} size={15.5} color="#3a3a3a" lastIdx={[3]} ls="0.4px" />
      <Block lines={LEFT_TEXT} left={94} top={968.1} width={509} lh={23.86} size={17.5} color="#111" lastIdx={[12, 13]} ls="0.3px" />
      <Block lines={RIGHT_TEXT} left={637} top={968.1} width={510} lh={23.86} size={17.5} color="#111" lastIdx={[]} ls="0.3px" />
      <div style={{ position: "absolute", left: 94, top: 1536, width: 1053, height: 1, background: "#000" }} />
      <div style={{ position: "absolute", left: 94, top: 1550, fontSize: 14.5, fontStyle: "italic", color: "#222" }}>Small, 2026</div>
      <div style={{ position: "absolute", left: 997, top: 1549, width: 150, textAlign: "right", fontSize: 16, color: "#111" }}>5 of 11</div>
      <svg style={{ position: "absolute", left: 1195, top: 0 }} width={46} height={1630}>
        <text transform="translate(11,36) rotate(90)" fontSize={10} fontFamily={SERIF} fill="#222" textLength={1560} lengthAdjust="spacingAndGlyphs">{SIDEBAR}</text>
      </svg>
    </div>
  );
}
